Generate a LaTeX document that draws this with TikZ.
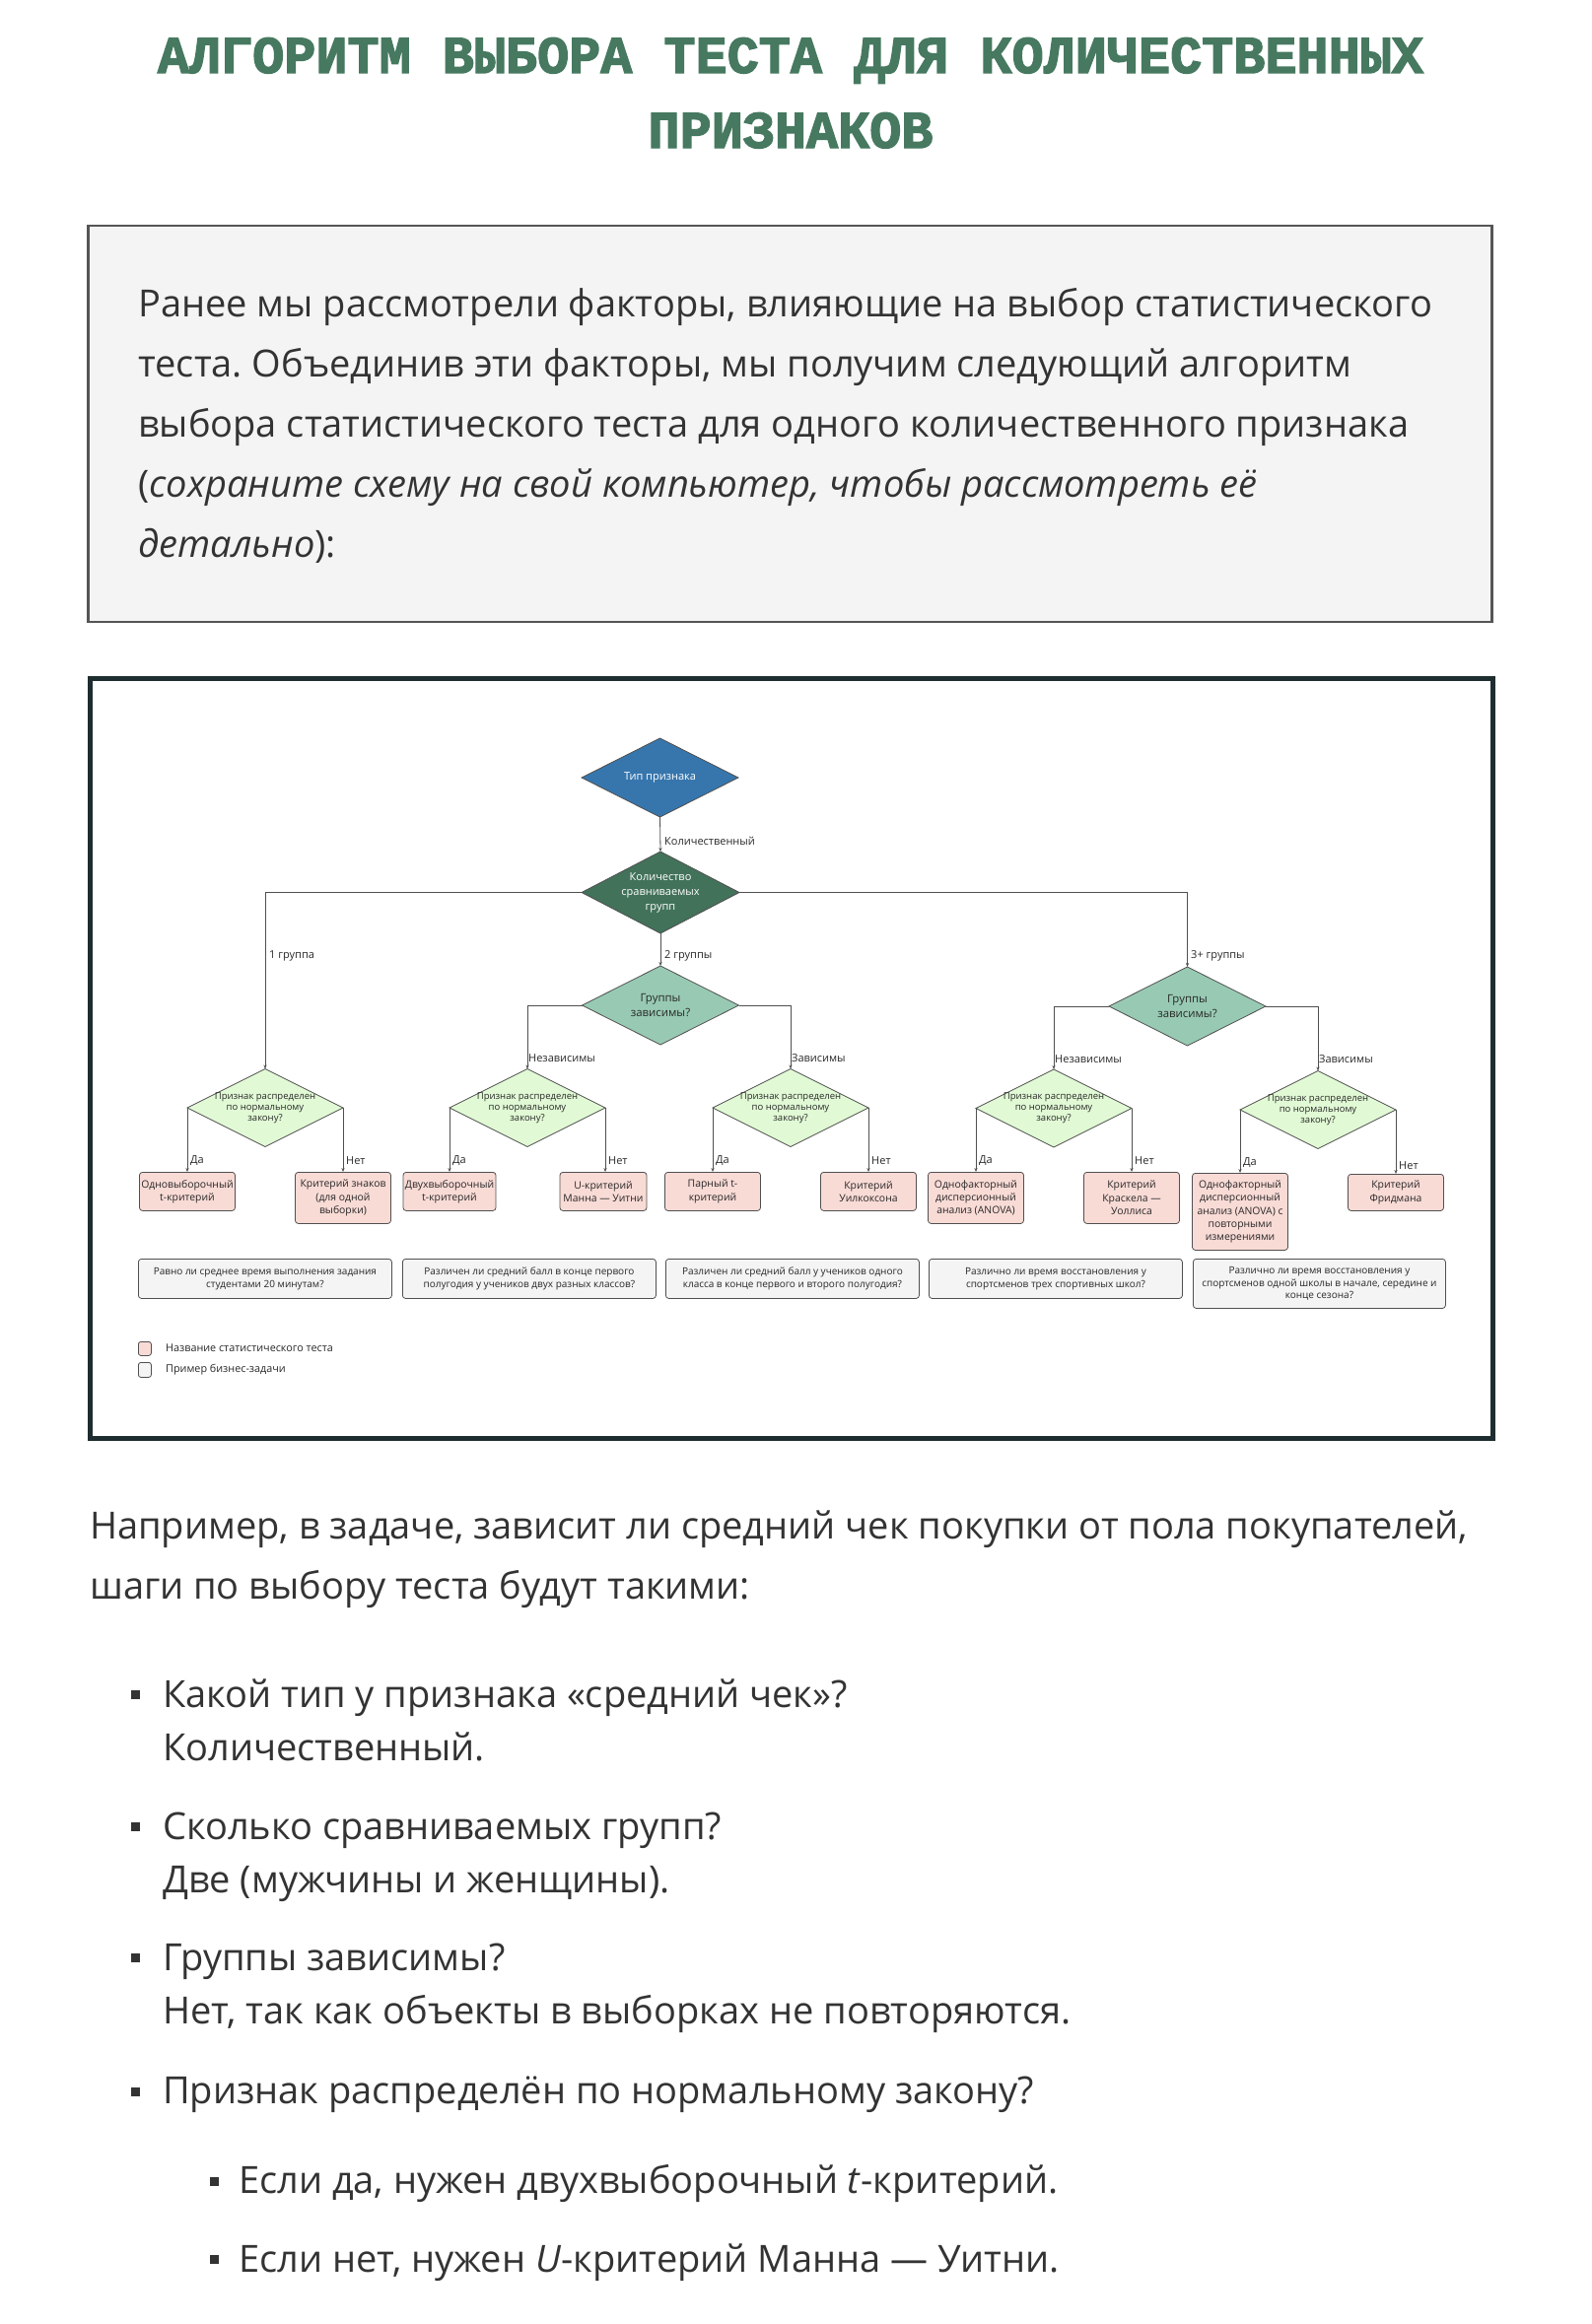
\documentclass[tikz,border=0pt]{standalone}
\usepackage{fontspec}
\setmainfont{Open Sans}
\newfontfamily\titlefont{Liberation Mono}[BoldFeatures={FakeBold=2.5}]
\usetikzlibrary{shapes.geometric,arrows.meta}
\frenchspacing
\definecolor{titlegreen}{RGB}{70,121,96}
\definecolor{bodytxt}{RGB}{51,51,51}
\definecolor{lightbox}{RGB}{244,244,244}
\definecolor{boxborder}{RGB}{85,85,85}
\definecolor{framec}{RGB}{30,45,47}
\definecolor{tipblue}{RGB}{55,118,173}
\definecolor{kolgreen}{RGB}{66,114,90}
\definecolor{grpgreen}{RGB}{152,202,179}
\definecolor{prizfill}{RGB}{225,250,213}
\definecolor{testpink}{RGB}{249,219,214}
\definecolor{exgray}{RGB}{244,244,244}
\definecolor{linec}{RGB}{80,80,80}
\definecolor{dtxt}{RGB}{40,40,40}
\tikzset{
  body/.style={anchor=base west, inner sep=0pt, text=bodytxt, font=\fontsize{38}{50}\selectfont},
  dia/.style={diamond, draw=linec, line width=0.8pt, inner sep=0pt, outer sep=0pt, minimum width=159pt, minimum height=80pt},
  qdia/.style={dia, fill=prizfill, minimum width=158pt, minimum height=79pt},
  dtext/.style={align=center, inner sep=0pt, text=dtxt},
  testbox/.style={rectangle, rounded corners=3pt, draw=linec, line width=0.8pt, fill=testpink, minimum width=97pt, anchor=north, align=center, inner sep=0pt, text=dtxt, font=\fontsize{10.4}{13.3}\selectfont},
  exbox/.style={rectangle, rounded corners=3pt, draw=linec, line width=0.8pt, fill=exgray, minimum width=257pt, anchor=north west, align=center, inner sep=0pt, text=dtxt, font=\fontsize{10}{12.5}\selectfont},
  conn/.style={draw=linec, line width=0.8pt, -{Stealth[length=4pt,width=3.2pt]}},
  lbl/.style={anchor=west, inner sep=0pt, text=dtxt, font=\fontsize{11}{13}\selectfont},
  bul/.style={fill=bodytxt},
}
\begin{document}
\begin{tikzpicture}[x=1pt,y=-1pt]
\useasboundingbox[fill=white] (0,0) rectangle (1614,2358);

% Title
\node[anchor=base, inner sep=0pt, text=titlegreen, font=\titlefont\bfseries\fontsize{53.5}{60}\selectfont] (title1) at (802,74) {АЛГОРИТМ ВЫБОРА ТЕСТА ДЛЯ КОЛИЧЕСТВЕННЫХ};
\node[anchor=base, inner sep=0pt, text=titlegreen, font=\titlefont\bfseries\fontsize{53.5}{60}\selectfont] (title2) at (802,150) {ПРИЗНАКОВ};

% Intro box
\draw[draw=boxborder, fill=lightbox, line width=2.5pt] (89.5,229) rectangle (1513.5,631);
\node[body] (p1) at (140,321) {Ранее мы рассмотрели факторы, влияющие на выбор статистического};
\node[body] (p2) at (140,382) {теста. Объединив эти факторы, мы получим следующий алгоритм};
\node[body] (p3) at (140,443) {выбора статистического теста для одного количественного признака};
\node[body] (p4) at (140,504) {(\textit{сохраните схему на свой компьютер, чтобы рассмотреть её}};
\node[body] (p5) at (140,565) {\textit{детально}):};

% Diagram frame
\draw[framec, line width=5pt] (91,688) rectangle (1514,1459);

% Diamonds
\node[dia, fill=tipblue] (tip) at (669.5,789) {};
\node[dtext, text=white, font=\fontsize{11}{13}\selectfont] (tipT) at (669.5,789) {Тип признака};
\node[dia, fill=kolgreen, minimum width=160pt, minimum height=83pt] (kol) at (670,905.5) {};
\node[dtext, text=white, font=\fontsize{11}{15}\selectfont] (kolT) at (670,906) {Количество\\сравниваемых\\групп};
\node[dia, fill=grpgreen] (g1) at (670,1020) {};
\node[dtext, font=\fontsize{11.4}{15}\selectfont] (g1T) at (670,1020) {Группы\\зависимы?};
\node[dia, fill=grpgreen] (g2) at (1204.5,1021) {};
\node[dtext, font=\fontsize{11.4}{15}\selectfont] (g2T) at (1204.5,1021) {Группы\\зависимы?};

\foreach \n/\x/\y in {pA/269/1124, pB/535/1124, pC/802/1124, pD/1069/1124.5, pE/1337/1126}{
  \node[qdia] (\n) at (\x,\y) {};
  \node[dtext, font=\fontsize{9.5}{11}\selectfont] (\n T) at (\x,\y) {Признак распределен\\по нормальному\\закону?};
}

% Test boxes
\node[testbox, minimum height=39pt] (a1) at (190,1189) {Одновыборочный\\t-критерий};
\node[testbox, minimum height=52pt] (a2) at (348,1189) {Критерий знаков\\(для одной\\выборки)};
\node[testbox, minimum height=39pt, minimum width=94pt] (b1) at (456,1189) {Двухвыборочный\\t-критерий};
\node[testbox, minimum height=39pt, minimum width=88pt] (b2) at (612,1189) {U-критерий\\Манна — Уитни};
\node[testbox, minimum height=39pt] (c1) at (723,1189) {Парный t-\\критерий};
\node[testbox, minimum height=39pt] (c2) at (881,1189) {Критерий\\Уилкоксона};
\node[testbox, minimum height=52pt] (d1) at (990,1189) {Однофакторный\\дисперсионный\\анализ (ANOVA)};
\node[testbox, minimum height=52pt] (d2) at (1148,1189) {Критерий\\Краскела —\\Уоллиса};
\node[testbox, minimum height=78pt] (e1) at (1258,1190) {Однофакторный\\дисперсионный\\анализ (ANOVA) с\\повторными\\измерениями};
\node[testbox, minimum height=37pt] (e2) at (1416,1191) {Критерий\\Фридмана};

% Connectors
\draw[conn] (tip.south) -- (kol.north);
\draw[conn] (kol.west) -| (pA.north);
\draw[conn] (kol.south) -- (g1.north);
\draw[conn] (kol.east) -| (g2.north);
\draw[conn] (g1.west) -| (pB.north);
\draw[conn] (g1.east) -| (pC.north);
\draw[conn] (g2.west) -| (pD.north);
\draw[conn] (g2.east) -| (pE.north);
\draw[conn] (pA.west) -- (pA.west |- a1.north);
\draw[conn] (pA.east) -- (pA.east |- a2.north);
\draw[conn] (pB.west) -- (pB.west |- b1.north);
\draw[conn] (pB.east) -- (pB.east |- b2.north);
\draw[conn] (pC.west) -- (pC.west |- c1.north);
\draw[conn] (pC.east) -- (pC.east |- c2.north);
\draw[conn] (pD.west) -- (pD.west |- d1.north);
\draw[conn] (pD.east) -- (pD.east |- d2.north);
\draw[conn] (pE.west) -- (pE.west |- e1.north);
\draw[conn] (pE.east) -- (pE.east |- e2.north);

% Connector labels
\node[lbl] (l0) at (674,853) {Количественный};
\node[lbl] (l1) at (273,970) {1 группа};
\node[lbl] (l2) at (674,970) {2 группы};
\node[lbl] (l3) at (1208,970) {3+ группы};
\node[lbl] (l4) at (536,1074) {Независимы};
\node[lbl] (l5) at (803,1074) {Зависимы};
\node[lbl] (l6) at (1070,1075) {Независимы};
\node[lbl] (l7) at (1338,1075) {Зависимы};
\foreach \x/\y/\t [count=\i] in {193/1178/Да, 351/1178/Нет, 459/1178/Да, 617/1178/Нет, 726/1178/Да, 884/1178/Нет, 993/1178/Да, 1151/1178/Нет, 1261/1180/Да, 1419/1183/Нет}{
  \node[lbl] (yn\i) at (\x,\y) {\t};
}

% Example boxes
\node[exbox, minimum height=40pt] (x1) at (140,1277) {Равно ли среднее время выполнения задания\\студентами 20 минутам?};
\node[exbox, minimum height=40pt] (x2) at (408,1277) {Различен ли средний балл в конце первого\\полугодия у учеников двух разных классов?};
\node[exbox, minimum height=40pt] (x3) at (675,1277) {Различен ли средний балл у учеников одного\\класса в конце первого и второго полугодия?};
\node[exbox, minimum height=40pt] (x4) at (942,1277) {Различно ли время восстановления у\\спортсменов трех спортивных школ?};
\node[exbox, minimum height=50pt, minimum width=256pt] (x5) at (1210,1277) {Различно ли время восстановления у\\спортсменов одной школы в начале, середине и\\конце сезона?};

% Legend
\node[draw=linec, line width=0.8pt, fill=testpink, rounded corners=2.5pt, minimum width=13pt, minimum height=14pt, inner sep=0pt, anchor=north west] (lg1) at (140,1361) {};
\node[lbl, font=\fontsize{10.8}{12}\selectfont] (lg1T) at (168,1368) {Название статистического теста};
\node[draw=linec, line width=0.8pt, fill=exgray, rounded corners=2.5pt, minimum width=13pt, minimum height=15pt, inner sep=0pt, anchor=north west] (lg2) at (140,1382) {};
\node[lbl, font=\fontsize{10.8}{12}\selectfont] (lg2T) at (168,1390) {Пример бизнес-задачи};

% Text below
\node[body] (q1) at (91,1561) {Например, в задаче, зависит ли средний чек покупки от пола покупателей,};
\node[body] (q2) at (91,1622) {шаги по выбору теста будут такими:};

\foreach \y in {1732,1866,1999,2135}{
  \fill[bul] (132.5,\y-17) rectangle (141.5,\y-8);
}
\foreach \y in {2226,2305}{
  \fill[bul] (212.5,\y-17) rectangle (221.5,\y-8);
}
\node[body] (b1a) at (165,1732) {Какой тип у признака «средний чек»?};
\node[body] (b1b) at (165,1786) {Количественный.};
\node[body] (b2a) at (165,1866) {Сколько сравниваемых групп?};
\node[body] (b2b) at (165,1920) {Две (мужчины и женщины).};
\node[body] (b3a) at (165,1999) {Группы зависимы?};
\node[body] (b3b) at (165,2053) {Нет, так как объекты в выборках не повторяются.};
\node[body] (b4a) at (165,2134) {Признак распределён по нормальному закону?};
\node[body] (s1) at (242,2225) {Если да, нужен двухвыборочный \textit{t}-критерий.};
\node[body] (s2) at (242,2305) {Если нет, нужен \textit{U}-критерий Манна — Уитни.};
\end{tikzpicture}
\end{document}
